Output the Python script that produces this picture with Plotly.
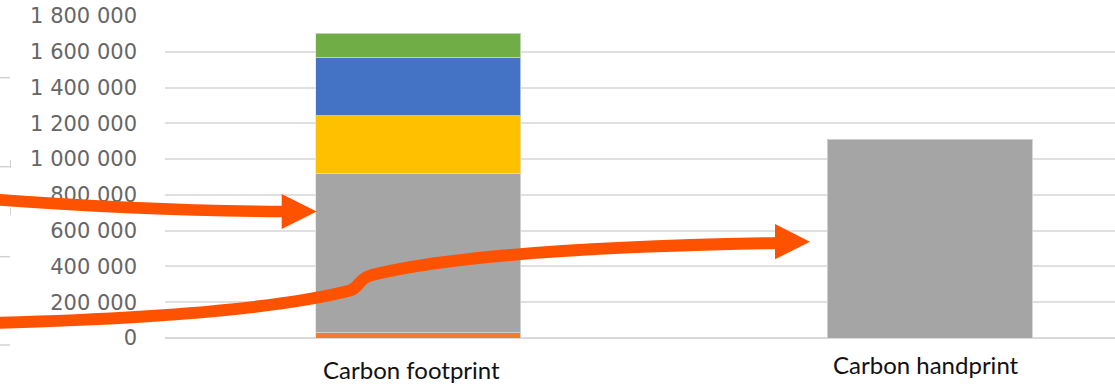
import plotly.graph_objects as go

# ---- data -------------------------------------------------------------
categories = ["Carbon footprint", "Carbon handprint"]

# stacked contributions to the footprint, bottom to top
footprint_parts = ["Part 1", "Part 2", "Part 3", "Part 4", "Part 5"]
footprint_values = [28000, 890000, 324000, 324000, 138000]

handprint_value = [1112000]

y_ticks = [0, 200000, 400000, 600000, 800000, 1000000,
           1200000, 1400000, 1600000, 1800000]

# ---- styling ----------------------------------------------------------
part_colors = ["#ED7D31", "#A5A5A5", "#FFC000", "#4472C4", "#70AD47"]
hand_color = "#A5A5A5"
arrow_color = "#FF5200"

W, H = 1115, 384
ML, MR, MT, MB = 165, 0, 16, 46


def px(x):
    """pixel x -> paper x"""
    return (x - ML) / (W - ML - MR)


def py(y):
    """pixel y (from top) -> paper y"""
    return (H - MB - y) / (H - MT - MB)


def pt(x, y):
    return f"{px(x):.5f},{py(y):.5f}"


fig = go.Figure()

for name, val, col in zip(footprint_parts, footprint_values, part_colors):
    fig.add_trace(go.Bar(
        x=[categories[0]], y=[val], name=name, width=0.4,
        marker=dict(color=col, line=dict(color="rgba(225,225,225,0.7)", width=1)),
    ))

fig.add_trace(go.Bar(
    x=[categories[1]], y=handprint_value, name="Handprint", width=0.4,
    marker=dict(color=hand_color, line=dict(color="rgba(210,210,210,0.9)", width=1)),
))

shapes = []

# curved arrow into the footprint bar
shapes.append(dict(
    type="path", xref="paper", yref="paper",
    path=f"M {pt(-5, 199.5)} Q {pt(150, 211)} {pt(286, 211.5)}",
    line=dict(color=arrow_color, width=11.5), layer="above",
))
shapes.append(dict(
    type="path", xref="paper", yref="paper",
    path=f"M {pt(281.7, 194)} L {pt(316.7, 211.5)} L {pt(281.7, 229)} Z",
    fillcolor=arrow_color, line=dict(color=arrow_color, width=0), layer="above",
))

# long S-shaped arrow towards the handprint bar
shapes.append(dict(
    type="path", xref="paper", yref="paper",
    path=(f"M {pt(-5, 322.8)} Q {pt(250, 316)} {pt(350, 290.5)} "
          f"C {pt(361, 287)} {pt(357, 279)} {pt(372, 275)} "
          f"Q {pt(480, 248)} {pt(779, 243)}"),
    line=dict(color=arrow_color, width=12), layer="above",
))
shapes.append(dict(
    type="path", xref="paper", yref="paper",
    path=f"M {pt(775, 224)} L {pt(810, 241.7)} L {pt(775, 259.3)} Z",
    fillcolor=arrow_color, line=dict(color=arrow_color, width=0), layer="above",
))

# remnants of a neighbouring axis along the left edge
edge_grey = "#d2d2d2"
for yy in [77.7, 166.7, 256.7, 345]:
    shapes.append(dict(type="line", xref="paper", yref="paper",
                       x0=px(0), x1=px(10), y0=py(yy), y1=py(yy),
                       line=dict(color=edge_grey, width=1.5)))
for y0, y1 in [(160, 168), (208, 215)]:
    shapes.append(dict(type="line", xref="paper", yref="paper",
                       x0=px(10.5), x1=px(10.5), y0=py(y0), y1=py(y1),
                       line=dict(color=edge_grey, width=1)))

label_font = dict(family="Lato", size=24, color="#111111")
annotations = [
    dict(x=categories[0], y=py(369.5), xref="x", yref="paper", yanchor="middle",
         text=categories[0], showarrow=False, xshift=-7, font=label_font),
    dict(x=categories[1], y=py(364.5), xref="x", yref="paper", yanchor="middle",
         text=categories[1], showarrow=False, xshift=-3.5, font=label_font),
]

fig.update_layout(
    width=W, height=H,
    margin=dict(l=ML, r=MR, t=MT, b=MB, pad=0),
    barmode="stack",
    showlegend=False,
    plot_bgcolor="white",
    paper_bgcolor="white",
    separators=". ",
    shapes=shapes,
    annotations=annotations,
    xaxis=dict(
        type="category", categoryorder="array", categoryarray=categories,
        range=[-0.495, 1.362], showticklabels=False, showgrid=False,
        zeroline=False, showline=False, fixedrange=True,
    ),
    yaxis=dict(
        range=[0, 1800000], tickvals=y_ticks, tickformat=",d",
        showgrid=True, gridcolor="#e0e0e0", gridwidth=1.6,
        zeroline=True, zerolinecolor="#d9d9d9", zerolinewidth=1.6,
        showline=False, ticks="", ticklabelstandoff=27,
        tickfont=dict(family="DejaVu Sans", size=21, color="#666666"),
        fixedrange=True,
    ),
)

fig.write_html("out.html")
